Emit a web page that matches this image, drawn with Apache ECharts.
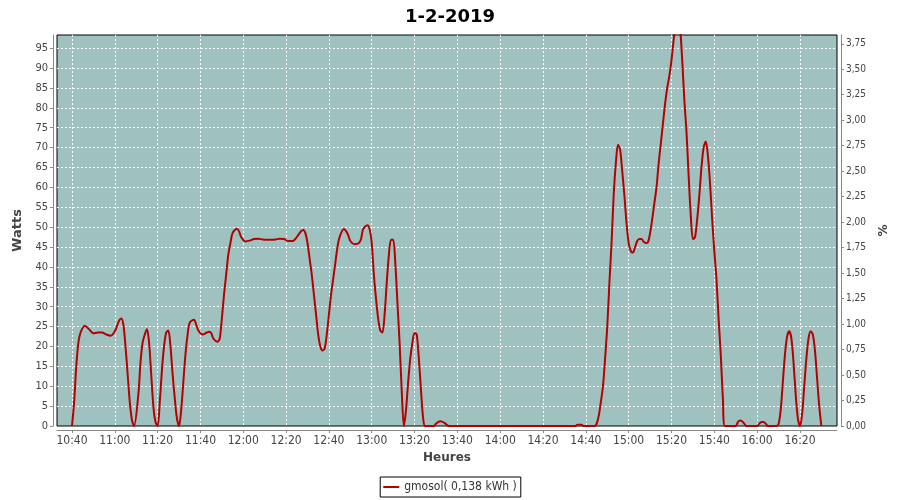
<!DOCTYPE html>
<html>
<head>
<meta charset="utf-8">
<script src="https://cdn.jsdelivr.net/npm/echarts@6/dist/echarts.min.js"></script>
<style>html,body{margin:0;padding:0;background:#fff;}#c{width:900px;height:500px;}</style>
</head>
<body>
<div id="c"></div>
<script>
const chartTitle = '1-2-2019';
const seriesName = 'gmosol( 0,138 kWh )';
const times = [
 '10:40','10:41','10:42','10:43','10:44','10:46','10:48','10:50','10:52','10:54','10:56','10:58',
 '11:00','11:02','11:03','11:04','11:05','11:06','11:07','11:08','11:09','11:11','11:12','11:13','11:14','11:15',
 '11:16','11:17','11:18','11:19','11:20','11:21','11:22','11:23','11:24','11:25','11:26','11:27','11:28','11:29',
 '11:30','11:31','11:32','11:33','11:34','11:35','11:37','11:38','11:39','11:41','11:43','11:44','11:45','11:46',
 '11:48','11:49','11:50','11:51','11:52','11:53','11:54','11:55','11:57','11:58','11:59','12:01','12:03','12:05',
 '12:07','12:09','12:11','12:13','12:15','12:17','12:19','12:21','12:23','12:25','12:27','12:28','12:29','12:30',
 '12:31','12:32','12:33','12:34','12:35','12:36','12:37','12:38','12:39','12:40','12:41','12:42','12:43','12:44',
 '12:45','12:47','12:48','12:49','12:50','12:52','12:54','12:55','12:56','12:58','12:59','13:00','13:01','13:02',
 '13:03','13:04','13:05','13:06','13:07','13:08','13:09','13:10','13:11','13:12','13:13','13:14','13:15','13:16',
 '13:17','13:18','13:19','13:20','13:21','13:22','13:23','13:24','13:25','13:29','13:30','13:32','13:34','13:36',
 '14:35','14:36','14:38','14:39','14:44','14:45','14:46','14:47','14:48','14:49','14:50','14:51','14:52','14:53',
 '14:54','14:55','14:56','14:57','14:58','14:59','15:00','15:01','15:02','15:03','15:04','15:05','15:06','15:07',
 '15:08','15:09','15:10','15:11','15:12','15:13','15:14','15:15','15:16','15:17','15:18','15:19','15:20','15:21',
 '15:22','15:23','15:24','15:25','15:26','15:27','15:28','15:29','15:30','15:31','15:32','15:33','15:34','15:35',
 '15:36','15:37','15:38','15:39','15:40','15:41','15:42','15:43','15:44','15:45','15:50','15:51','15:52','15:53',
 '15:54','15:55','16:00','16:01','16:02','16:03','16:04','16:05','16:09','16:10','16:11','16:12','16:13','16:14',
 '16:15','16:16','16:17','16:18','16:19','16:20','16:21','16:22','16:23','16:24','16:25','16:26','16:27','16:28',
 '16:29','16:30'
];
const watts = [
 0,6,15,21,23.5,25.2,24.3,23.3,23.5,23.5,23.0,22.7,
 23.8,26.5,27.0,25.5,20,13,6,1.5,0,8,16,21,23,24.4,
 21,13,5,1,0,6,14,20,23.5,24,20,13,7,2,
 0,4,11,18,23,26,26.7,25.5,24,23.0,23.5,23.7,23.4,22,
 21.2,22,27,33,38,43,46,48.5,49.6,49,47.5,46.4,46.6,47.0,
 47.1,46.9,46.8,46.8,46.9,47.1,47.0,46.5,46.5,47.5,49.0,49.3,48.5,46,
 42,38,33,28,23,20,19,19.5,23,28,33,37,41,45,
 47.5,49.5,49,48,46.5,45.7,46,47,49.5,50.5,49.5,46,38,32,
 27,24,23.5,28,36,43,46.8,46.8,41,31,21,9,0,4,
 11,17,21,23.4,23,17,9,2,0,0,0.6,1.2,0.8,0,
 0,0.3,0.3,0,0,0.5,2.5,6,10,17,25,36,46,58,
 66,70.7,69.5,64,58,51,46,44,43.6,45,46.5,47,47,46.3,
 46,46.2,48.5,52,56,60,66,71,76,81,85,88,92,97,
 101,102,100,92,82,74,63,53,47,47.5,52,58,65,70,
 71.5,68,61,52,44,37,27,18,7,0,0,1.0,1.4,1.2,
 0.6,0,0,0.6,1.0,1.0,0.6,0,0,0.5,4,11,18,22.5,
 23.8,22,16,8,2,0,3,10,17,22,23.8,23,19,12,
 5,0
];
const xMinTime = '10:33';
const xMaxTime = '16:37.3';
const wattsMax = 98.3;
const pctMax = 3.836;

function toMin(s){ const p = s.split(':'); return parseInt(p[0],10)*60 + parseFloat(p[1]); }
function fmtTime(v){ const h = Math.floor(v/60), m = Math.round(v - h*60); return h + ':' + (m<10?'0':'') + m; }

const pts = times.map((t,i) => [toMin(t), watts[i]]);
const FONT = 'DejaVu Sans Condensed, DejaVu Sans, sans-serif';
const gridLine = {show: true, showMinLine: false, showMaxLine: false,
  lineStyle: {color: '#ffffff', type: [2, 2], width: 1}};
const chart = echarts.init(document.getElementById('c'), null, {renderer:'canvas'});
chart.setOption({
  animation: false,
  backgroundColor: '#ffffff',
  title: {
    text: chartTitle, left: 'center', top: 3,
    textStyle: {fontFamily: 'DejaVu Sans', fontWeight: 'bold', fontSize: 18, color: '#000'}
  },
  legend: {
    data: [seriesName], bottom: 3, left: 'center',
    borderColor: '#000', borderWidth: 1, padding: [4, 4, 4, 3],
    icon: 'rect', itemWidth: 16, itemHeight: 2, itemGap: 4,
    textStyle: {fontFamily: FONT, fontSize: 12, color: '#333'}
  },
  grid: {
    left: 57, right: 63, top: 35, bottom: 74,
    show: true, backgroundColor: '#9fc2c1', borderColor: '#000', borderWidth: 1
  },
  xAxis: {
    type: 'value', min: toMin(xMinTime), max: toMin(xMaxTime),
    splitNumber: 18, minInterval: 20, maxInterval: 20,
    offset: 4,
    name: 'Heures', nameLocation: 'middle', nameGap: 21,
    nameTextStyle: {fontFamily: 'DejaVu Sans', fontWeight: 'bold', fontSize: 12, color: '#444'},
    axisLine: {show: true, onZero: false, lineStyle: {color: '#888', width: 1}},
    axisTick: {show: true, length: 3, lineStyle: {color: '#888'}},
    axisLabel: {fontFamily: FONT, fontSize: 12, color: '#444', margin: 5,
      showMinLabel: false, showMaxLabel: false, formatter: v => fmtTime(v)},
    splitLine: gridLine
  },
  yAxis: [
    {
      type: 'value', min: 0, max: wattsMax, interval: 5, offset: 4,
      name: 'Watts', nameLocation: 'middle', nameGap: 29,
      nameTextStyle: {fontFamily: 'DejaVu Sans', fontWeight: 'bold', fontSize: 13, color: '#444'},
      axisLine: {show: true, lineStyle: {color: '#888', width: 1}},
      axisTick: {show: true, length: 3, lineStyle: {color: '#888'}},
      axisLabel: {fontFamily: FONT, fontSize: 11, color: '#444', margin: 5, showMaxLabel: false},
      splitLine: gridLine
    },
    {
      type: 'value', min: 0, max: pctMax, interval: 0.25, offset: 4, position: 'right',
      name: '%', nameLocation: 'middle', nameGap: 37,
      nameTextStyle: {fontFamily: 'DejaVu Sans', fontWeight: 'bold', fontSize: 12, color: '#444'},
      axisLine: {show: true, lineStyle: {color: '#888', width: 1}},
      axisTick: {show: true, length: 3, lineStyle: {color: '#888'}},
      axisLabel: {fontFamily: FONT, fontSize: 10, color: '#444', margin: 5, showMaxLabel: false,
        formatter: v => v.toFixed(2).replace('.', ',')},
      splitLine: {show: false}
    }
  ],
  series: [{
    name: seriesName, type: 'line', yAxisIndex: 0, data: pts,
    showSymbol: false, smooth: 0.3, clip: true,
    lineStyle: {color: '#b40000', width: 2}, itemStyle: {color: '#b40000'}
  }]
});
</script>
</body>
</html>
